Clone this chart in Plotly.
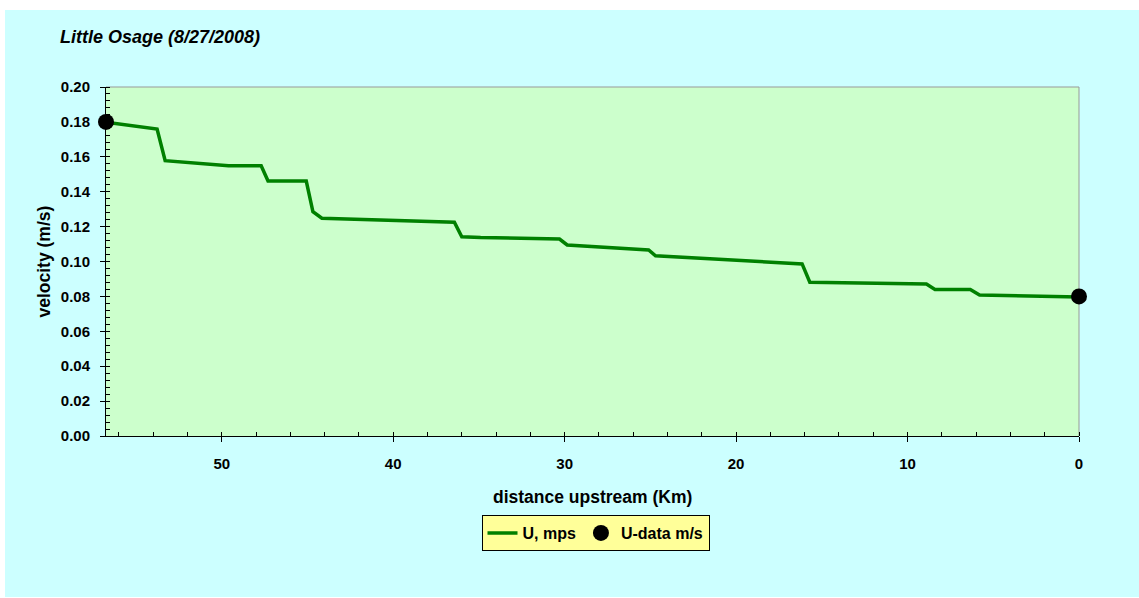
import plotly.graph_objects as go

# ---- data ----
model_distance_km = [56.75, 53.77, 53.3, 49.6, 47.7, 47.3, 45.07, 44.68, 44.16, 36.43, 36.0,
                     34.9, 30.3, 29.85, 25.1, 24.7, 16.15, 15.7, 8.9, 8.4, 6.34, 5.8, 0.0]
model_velocity = [0.1798, 0.1759, 0.1578, 0.1549, 0.1549, 0.1461, 0.1461, 0.1285, 0.1248, 0.1225, 0.1142,
                  0.1137, 0.1129, 0.1095, 0.1066, 0.1033, 0.0986, 0.0881, 0.0871, 0.0840, 0.0840, 0.0808, 0.0797]
data_distance_km = [56.75, 0.0]
data_velocity = [0.18, 0.08]

title_text = "Little Osage (8/27/2008)"
x_title = "distance upstream (Km)"
y_title = "velocity (m/s)"
series_line_name = "U, mps"
series_data_name = "U-data m/s"

# ---- layout geometry (pixels) ----
W, H = 1139, 598
L, R, T, B = 106, 60, 87, 162
PW, PH = W - L - R, H - T - B

def px_x(p):
    return (p - L) / PW

def px_y(p):
    return (H - B - p) / PH

FONT = "Liberation Sans, Arial, sans-serif"

fig = go.Figure()
fig.add_trace(go.Scatter(
    x=model_distance_km, y=model_velocity, mode="lines", name=series_line_name,
    line=dict(color="#008000", width=3.5), cliponaxis=False,
))
fig.add_trace(go.Scatter(
    x=data_distance_km, y=data_velocity, mode="markers", name=series_data_name,
    marker=dict(color="black", size=16), cliponaxis=False,
))

shapes = [
    dict(type="rect", xref="paper", yref="paper", layer="below",
         x0=px_x(5), x1=px_x(W + 5), y0=px_y(597), y1=px_y(10),
         fillcolor="#CCFFFF", line=dict(width=0)),
    dict(type="rect", xref="paper", yref="paper", layer="below",
         x0=0, x1=1, y0=0, y1=1, fillcolor="#CCFFCC", line=dict(width=0)),
    dict(type="line", xref="paper", yref="paper", layer="below",
         x0=0, x1=1, y0=1, y1=1, line=dict(color="#999999", width=1)),
    dict(type="line", xref="paper", yref="paper", layer="below",
         x0=1, x1=1, y0=0, y1=1, line=dict(color="#999999", width=1)),
]

annotations = [
    dict(text=f"<b>{x_title}</b>", xref="paper", yref="paper", x=0.5, y=px_y(497),
         xanchor="center", yanchor="middle", showarrow=False,
         font=dict(family=FONT, size=17.5, color="black")),
    dict(text=f"<b>{y_title}</b>", xref="paper", yref="paper", x=px_x(43), y=0.5,
         xanchor="center", yanchor="middle", showarrow=False, textangle=-90,
         font=dict(family=FONT, size=17.5, color="black")),
]

fig.update_layout(
    width=W, height=H,
    margin=dict(l=L, r=R, t=T, b=B, autoexpand=False),
    paper_bgcolor="white", plot_bgcolor="rgba(0,0,0,0)",
    shapes=shapes, annotations=annotations,
    title=dict(text=title_text, x=60 / W, xanchor="left", xref="container",
               y=1 - 37 / H, yanchor="middle", yref="container",
               font=dict(family=FONT, size=18, color="black", weight="bold", style="italic")),
    showlegend=True,
    legend=dict(orientation="h", x=px_x(595.5), xanchor="center", y=px_y(515), yanchor="top",
                bgcolor="#FFFF99", bordercolor="black", borderwidth=1,
                font=dict(family=FONT, size=16, color="black", weight="bold"),
                itemwidth=30, tracegroupgap=0),
    xaxis=dict(range=[56.75, 0], dtick=10, tick0=0, showgrid=False, zeroline=False,
               showline=True, linecolor="black", linewidth=1,
               ticks="outside", ticklen=5, tickcolor="black",
               minor=dict(dtick=2, tick0=0, ticks="inside", ticklen=4, tickcolor="black", showgrid=False),
               tickfont=dict(family=FONT, size=15, color="black", weight="bold"),
               ticklabelstandoff=9),
    yaxis=dict(range=[0, 0.2], dtick=0.02, tick0=0, tickformat=".2f", showgrid=False, zeroline=False,
               showline=True, linecolor="black", linewidth=1,
               ticks="outside", ticklen=5, tickcolor="black",
               minor=dict(dtick=0.004, tick0=0, ticks="inside", ticklen=4, tickcolor="black", showgrid=False),
               tickfont=dict(family=FONT, size=15, color="black", weight="bold"),
               ticklabelstandoff=7),
)

fig.write_html("out.html", config={"displayModeBar": False},
               post_script="document.body.style.margin='0px';document.body.style.overflow='hidden';")
